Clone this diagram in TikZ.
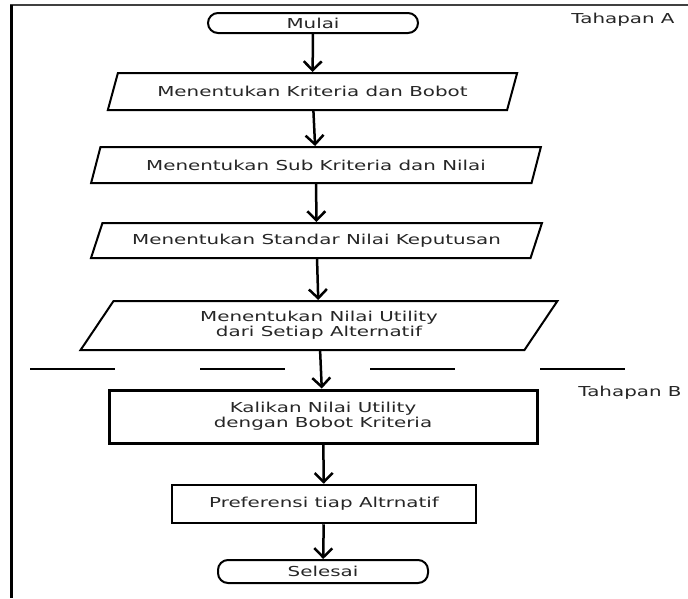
\documentclass[tikz,border=0pt]{standalone}
\usepackage{fontspec}
\usetikzlibrary{shapes.geometric,arrows.meta}
\newfontfamily\diagfont[FakeStretch=1.45]{DejaVu Sans}
\definecolor{ink}{gray}{0.15}

\begin{document}
\begin{tikzpicture}[x=1pt,y=-1pt,
  every node/.style={font=\diagfont\fontsize{13.7}{15}\selectfont, text=ink, align=center, inner sep=0pt},
  terminal/.style={draw=black, line width=2pt, rectangle, rounded corners=10pt, minimum width=210pt},
  io/.style={draw=black, line width=2pt, trapezium, trapezium stretches=true},
  process/.style={draw=black, rectangle},
  arr/.style={line width=2.5pt, -{Straight Barb[length=9pt,width=18pt]}},
  label/.style={}
]
\useasboundingbox (0,0) rectangle (688,598);

% outer frame (top and left edges)
\draw[line width=2pt, black!75] (10,5) -- (688,5);
\draw[line width=3pt, black] (11,5) -- (11,598);

% stage labels
\node[label] (tahapA) at (623,20) {Tahapan A};
\node[label] (tahapB) at (630,393) {Tahapan B};

% stage separator
\draw[line width=1.5pt, dash pattern=on 85pt off 85pt] (30,369) -- (627,369);

% flow steps
\node[terminal, minimum height=20pt] (mulai) at (313,23) {Mulai};
\node[io, minimum width=411pt, minimum height=37pt,
      trapezium left angle=52.9, trapezium right angle=127.1] (p1) at (312.5,91.5)
      {Menentukan Kriteria dan Bobot};
\node[io, minimum width=452pt, minimum height=36pt,
      trapezium left angle=55.2, trapezium right angle=124.8] (p2) at (316,165)
      {Menentukan Sub Kriteria dan Nilai};
\node[io, minimum width=453pt, minimum height=35pt,
      trapezium left angle=53.4, trapezium right angle=126.6] (p3) at (316.5,240.5)
      {Menentukan Standar Nilai Keputusan};
\node[io, minimum width=478pt, minimum height=49pt,
      trapezium left angle=56, trapezium right angle=124] (p4) at (319,325.5)
      {Menentukan Nilai Utility\\dari Setiap Alternatif};
\node[process, line width=3pt, minimum width=428pt, minimum height=53pt] (r1) at (323,416.5)
      {Kalikan Nilai Utility\\dengan Bobot Kriteria};
\node[process, line width=2.5pt, minimum width=304pt, minimum height=38pt] (r2) at (324,504)
      {Preferensi tiap Altrnatif};
\node[terminal, minimum height=23pt] (selesai) at (323,571.5) {Selesai};

% connectors
\draw[arr] (mulai) -- (p1);
\draw[arr] (p1) -- (p2);
\draw[arr] (p2) -- (p3);
\draw[arr] (p3) -- (p4);
\draw[arr] (p4) -- (r1);
\draw[arr] (r1) -- (r2);
\draw[arr] (r2) -- (selesai);
\end{tikzpicture}
\end{document}
